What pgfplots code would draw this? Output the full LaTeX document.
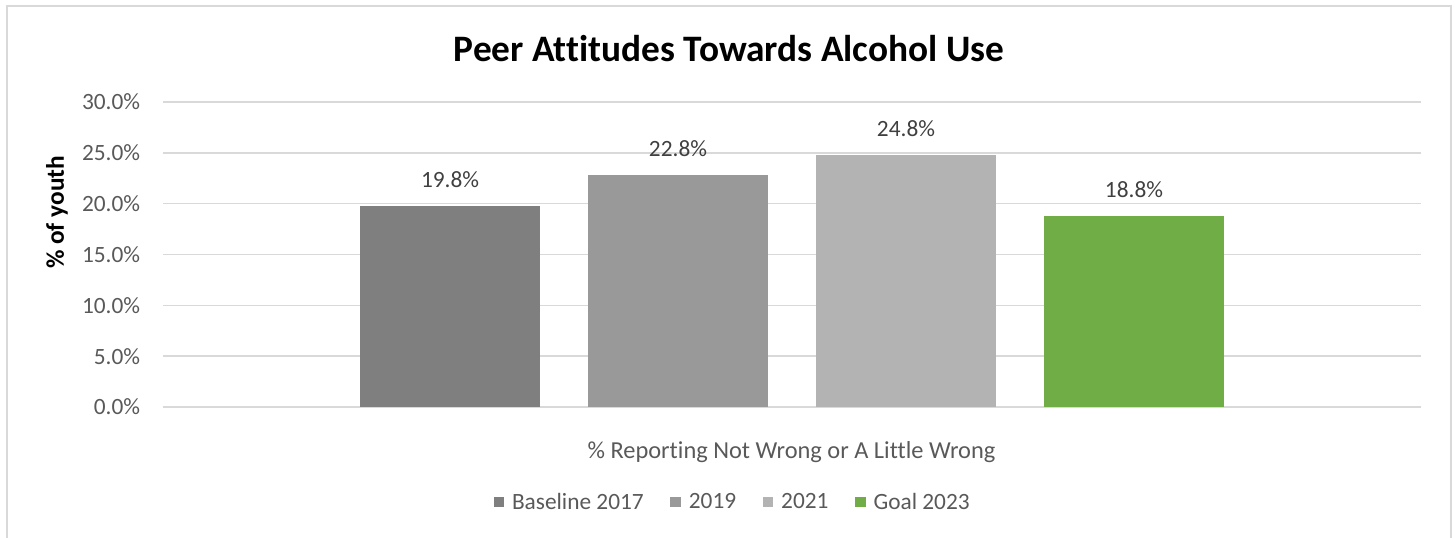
\documentclass[border=0pt]{standalone}
\usepackage{pgfplots}
\pgfplotsset{compat=1.18}
\usepackage{fontspec}
\setmainfont{Carlito}[Ligatures={NoCommon}]
\definecolor{tickgray}{HTML}{595959}
\definecolor{labgray}{HTML}{404040}
\definecolor{gridgray}{HTML}{D9D9D9}
\definecolor{barA}{HTML}{7F7F7F}
\definecolor{barB}{HTML}{999999}
\definecolor{barC}{HTML}{B3B3B3}
\definecolor{barD}{HTML}{70AD47}
\newcommand{\tfont}{\fontsize{17.5}{21}\selectfont}
\begin{document}
\begin{tikzpicture}
\useasboundingbox (0,0) rectangle (1091.25pt,402.75pt);
\draw[draw=gridgray, line width=1.1pt] (5.25pt,-20pt) rectangle (1088.25pt,398.25pt);
\begin{axis}[
  at={(122.25pt,97.5pt)}, anchor=south west,
  scale only axis, width=943.5pt, height=228.75pt,
  ymin=0, ymax=30, xmin=-1.259, xmax=4.259,
  ybar, bar width=135pt, bar shift=0pt,
  /pgf/number format/assume math mode=true,
  axis line style={draw=none},
  major tick length=0pt,
  tick style={draw=none},
  xtick=\empty,
  ytick={0,5,10,15,20,25,30},
  yticklabel={\pgfmathprintnumber[fixed,fixed zerofill,precision=1]{\tick}\%},
  yticklabel style={font=\tfont, text=tickgray, inner sep=0pt, xshift=-17pt},
  ymajorgrids,
  grid style={draw=gridgray, line width=1.2pt},
  nodes near coords={\pgfmathprintnumber[fixed,fixed zerofill,precision=1]{\pgfplotspointmeta}\%},
  nodes near coords style={font=\tfont, text=labgray, inner sep=0pt, yshift=13.5pt},
  legend columns=4,
  legend style={at={(0.4531,-0.3115)}, anchor=center, draw=none, fill=none,
    font=\tfont, text=tickgray, inner sep=0pt,
    /tikz/every even column/.append style={column sep=18pt},
    /tikz/every odd column/.append style={column sep=4pt}},
  legend image code/.code={\fill[#1] (0pt,-3.9pt) rectangle (7.8pt,3.9pt);},
]
\addplot[fill=barA, draw=none] coordinates {(0,19.8)};
\addlegendentry{Baseline 2017}
\addplot[fill=barB, draw=none] coordinates {(1,22.8)};
\addlegendentry{2019}
\addplot[fill=barC, draw=none] coordinates {(2,24.8)};
\addlegendentry{2021}
\addplot[fill=barD, draw=none] coordinates {(3,18.8)};
\addlegendentry{Goal 2023}
\end{axis}
\node[font=\fontsize{28}{33}\selectfont\bfseries, anchor=base] at (546.75pt,357pt) {Peer Attitudes Towards Alcohol Use};
\node[font=\fontsize{19}{23}\selectfont\bfseries, rotate=90, anchor=center] at (42.75pt,243.4pt) {\% of youth};
\node[font=\fontsize{18.3}{22}\selectfont, text=tickgray, anchor=base] at (593.6pt,59.25pt) {\% Reporting Not Wrong or A Little Wrong};
\end{tikzpicture}
\end{document}
